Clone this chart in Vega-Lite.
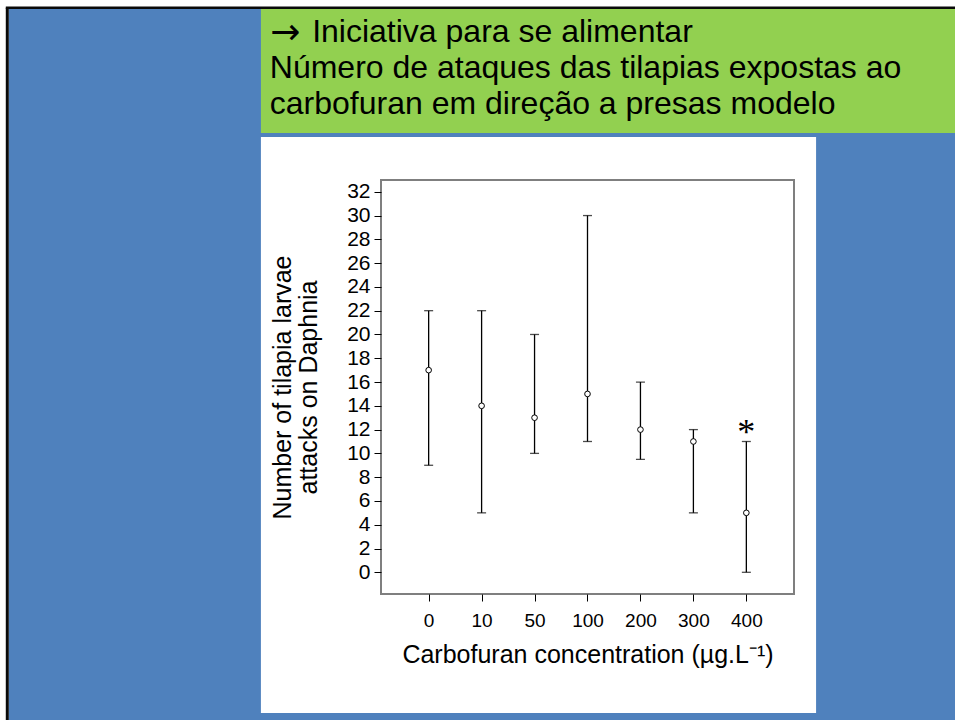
{
  "$schema": "https://vega.github.io/schema/vega-lite/v6.json",
  "autosize": {"type": "none"},
  "width": 413,
  "height": 414,
  "padding": {"left": 381, "top": 180, "right": 161, "bottom": 126},
  "background": "white",
  "config": {
    "view": {"stroke": null},
    "font": "Liberation Sans"
  },
  "data": {
    "values": [
      {"conc": "0", "i": 0, "mean": 17, "lo": 9, "hi": 22, "sig": ""},
      {"conc": "10", "i": 1, "mean": 14, "lo": 5, "hi": 22, "sig": ""},
      {"conc": "50", "i": 2, "mean": 13, "lo": 10, "hi": 20, "sig": ""},
      {"conc": "100", "i": 3, "mean": 15, "lo": 11, "hi": 30, "sig": ""},
      {"conc": "200", "i": 4, "mean": 12, "lo": 9.5, "hi": 16, "sig": ""},
      {"conc": "300", "i": 5, "mean": 11, "lo": 5, "hi": 12, "sig": ""},
      {"conc": "400", "i": 6, "mean": 5, "lo": 0, "hi": 11, "sig": "*"}
    ]
  },
  "layer": [
    {
      "data": {"values": [{}]},
      "mark": {"type": "rect", "fill": "#4F81BD"},
      "encoding": {
        "x": {
          "datum": -7.93, "type": "quantitative",
          "scale": {"domain": [-0.9, 6.9], "nice": false, "zero": false},
          "axis": {
            "values": [0, 1, 2, 3, 4, 5, 6], "tickCount": 20,
            "labelExpr": "['0','10','50','100','200','300','400'][datum.value]",
            "title": "Carbofuran concentration (µg.L⁻¹)",
            "titleFontSize": 25, "titleFontWeight": "normal", "titleColor": "black", "titlePadding": 12,
            "labelFontSize": 19, "labelColor": "black", "labelPadding": 10, "labelAngle": 0, "labelOverlap": false,
            "tickSize": 7, "tickColor": "black", "domain": false, "grid": false, "zindex": 1
          }
        },
        "x2": {"datum": 11},
        "y": {
          "datum": 47.38, "type": "quantitative",
          "scale": {"domain": [-1.825, 32.99], "nice": false, "zero": false},
          "axis": {
            "values": [0, 2, 4, 6, 8, 10, 12, 14, 16, 18, 20, 22, 24, 26, 28, 30, 32], "tickCount": 40,
            "title": ["Number of tilapia larvae", "attacks on Daphnia"],
            "titleFontSize": 25, "titleFontWeight": "normal", "titleColor": "black", "titleLineHeight": 26, "titlePadding": 25,
            "labelFontSize": 21, "labelColor": "black", "labelPadding": 4, "labelOverlap": false, "labelBound": false,
            "tickSize": 7, "tickColor": "black", "domain": false, "grid": false, "zindex": 1
          }
        },
        "y2": {"datum": -13}
      }
    },
    {
      "data": {"values": [{}]},
      "mark": {"type": "rule", "stroke": "#0a0a0a", "strokeWidth": 3},
      "encoding": {
        "x": {"datum": -7.958, "type": "quantitative"},
        "y": {"datum": 47.48, "type": "quantitative"},
        "y2": {"datum": -13}
      }
    },
    {
      "data": {"values": [{}]},
      "mark": {"type": "rule", "stroke": "#0a0a0a", "strokeWidth": 2.5},
      "encoding": {
        "x": {"datum": -7.986, "type": "quantitative"},
        "x2": {"datum": 11},
        "y": {"datum": 47.48, "type": "quantitative"}
      }
    },
    {
      "data": {"values": [{}]},
      "mark": {"type": "rect", "fill": "#92D050"},
      "encoding": {
        "x": {"datum": -3.168, "type": "quantitative"},
        "x2": {"datum": 11},
        "y": {"datum": 47.38, "type": "quantitative"},
        "y2": {"datum": 36.95}
      }
    },
    {
      "data": {"values": [{}]},
      "mark": {"type": "rect", "fill": "white"},
      "encoding": {
        "x": {"datum": -3.168, "type": "quantitative"},
        "x2": {"datum": 7.317},
        "y": {"datum": 36.61, "type": "quantitative"},
        "y2": {"datum": -11.83}
      }
    },
    {
      "data": {"values": [{}]},
      "mark": {"type": "rect", "fill": null, "stroke": "#7f7f7f", "strokeWidth": 2},
      "encoding": {
        "x": {"datum": -0.9, "type": "quantitative"},
        "x2": {"datum": 6.9},
        "y": {"datum": 32.99, "type": "quantitative"},
        "y2": {"datum": -1.825}
      }
    },
    {
      "data": {"values": [{}]},
      "mark": {"type": "text", "align": "left", "baseline": "alphabetic", "fontSize": 36, "color": "black", "font": "DejaVu Sans"},
      "encoding": {
        "x": {"datum": -2.99, "type": "quantitative"},
        "y": {"datum": 44.4, "type": "quantitative"},
        "text": {"value": "→"}
      }
    },
    {
      "data": {"values": [{}]},
      "mark": {"type": "text", "align": "left", "baseline": "alphabetic", "fontSize": 32, "color": "black", "font": "Liberation Sans"},
      "encoding": {
        "x": {"datum": -2.2, "type": "quantitative"},
        "y": {"datum": 44.63, "type": "quantitative"},
        "text": {"value": "Iniciativa para se alimentar"}
      }
    },
    {
      "data": {"values": [{}]},
      "mark": {"type": "text", "align": "left", "baseline": "alphabetic", "fontSize": 32, "lineHeight": 36, "color": "black", "font": "Liberation Sans"},
      "encoding": {
        "x": {"datum": -3.0, "type": "quantitative"},
        "y": {"datum": 41.6, "type": "quantitative"},
        "text": {"value": ["Número de ataques das tilapias expostas ao", "carbofuran em direção a presas modelo"]}
      }
    },
    {
      "mark": {"type": "rule", "color": "black", "strokeWidth": 1.3},
      "encoding": {
        "x": {"field": "i", "type": "quantitative"},
        "y": {"field": "lo", "type": "quantitative"},
        "y2": {"field": "hi"}
      }
    },
    {
      "mark": {"type": "tick", "orient": "horizontal", "color": "black", "size": 9, "thickness": 1.3},
      "encoding": {
        "x": {"field": "i", "type": "quantitative"},
        "y": {"field": "hi", "type": "quantitative"}
      }
    },
    {
      "mark": {"type": "tick", "orient": "horizontal", "color": "black", "size": 9, "thickness": 1.3},
      "encoding": {
        "x": {"field": "i", "type": "quantitative"},
        "y": {"field": "lo", "type": "quantitative"}
      }
    },
    {
      "mark": {"type": "point", "shape": "circle", "filled": true, "fill": "white", "stroke": "black", "strokeWidth": 1, "size": 32, "opacity": 1},
      "encoding": {
        "x": {"field": "i", "type": "quantitative"},
        "y": {"field": "mean", "type": "quantitative"}
      }
    },
    {
      "transform": [{"filter": "datum.sig != ''"}],
      "mark": {"type": "text", "font": "Liberation Serif", "fontSize": 36, "align": "center", "baseline": "alphabetic", "dy": 3, "color": "black"},
      "encoding": {
        "x": {"field": "i", "type": "quantitative"},
        "y": {"field": "hi", "type": "quantitative"},
        "text": {"field": "sig"}
      }
    }
  ]
}
